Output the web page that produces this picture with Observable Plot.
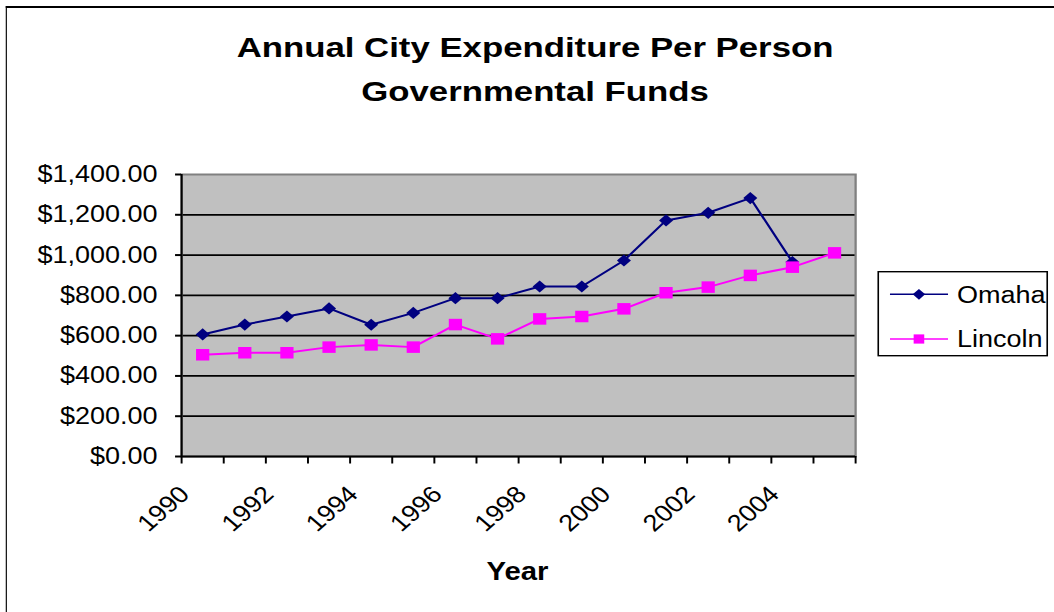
<!DOCTYPE html>
<html>
<head>
<meta charset="utf-8">
<script src="https://cdn.jsdelivr.net/npm/d3@7"></script>
<script src="https://cdn.jsdelivr.net/npm/@observablehq/plot@0.6"></script>
<style>
  html, body { margin: 0; padding: 0; background: #fff; overflow: hidden; width: 1054px; height: 612px; }
  #wrap { position: relative; width: 917px; height: 612px; transform: scaleX(1.1494); transform-origin: 0 0;
          font-family: "Liberation Sans", Arial, sans-serif; color: #000; }
  #frame { position: absolute; left: 5.2px; top: 6px; width: 2000px; height: 2000px;
           border-left: 1.8px solid #000; border-top: 2px solid #000; }
  #chart { position: absolute; left: 0; top: 0; }
  #title { position: absolute; left: 0; top: 26px; width: 931px; text-align: center; font-weight: bold;
           font-size: 28px; line-height: 44px; white-space: nowrap; transform: scaleX(1.08); transform-origin: 465.5px 0; }
  #xlabel { position: absolute; left: 0; top: 555.7px; width: 900.4px; text-align: center; font-weight: bold;
            font-size: 25.5px; line-height: 31px; }
  #legend { position: absolute; left: 760px; top: 265px; overflow: visible; }
</style>
</head>
<body>
<div id="wrap">
  <div id="frame"></div>
  <div id="chart"></div>
  <div id="title">Annual City Expenditure Per Person<br>Governmental Funds</div>
  <div id="xlabel">Year</div>
  <svg id="legend" width="157" height="100"></svg>
</div>
<script>
// ---- Data ----
const years = [1990, 1991, 1992, 1993, 1994, 1995, 1996, 1997, 1998, 1999, 2000, 2001, 2002, 2003, 2004, 2005];
const omahaValues = [606, 655, 695, 735, 654, 713, 786, 786, 844, 844, 973, 1172, 1210, 1283, 965];
const lincolnValues = [505, 515, 515, 543, 554, 543, 655, 584, 683, 695, 733, 813, 841, 899, 940, 1011];
const seriesNames = ["Omaha", "Lincoln"];
const seriesColors = ["#000080", "#FF00FF"];
const seriesSymbols = ["diamond2", "square"];
const yTicks = [0, 200, 400, 600, 800, 1000, 1200, 1400];
const xLabelYears = [1990, 1992, 1994, 1996, 1998, 2000, 2002, 2004];

const omaha = omahaValues.map((v, i) => ({year: years[i], value: v}));
const lincoln = lincolnValues.map((v, i) => ({year: years[i], value: v}));
const boundaries = [years[0] - 0.5, ...years.map(y => y + 0.5)];

const chart = Plot.plot({
  width: 917,
  height: 612,
  marginTop: 174,
  marginBottom: 156,
  marginLeft: 157.5,
  marginRight: 173.1,
  style: {fontFamily: '"Liberation Sans", Arial, sans-serif', fontSize: "23.5px", color: "#000", background: "transparent", maxWidth: "none", overflow: "visible"},
  x: {domain: [boundaries[0], boundaries[boundaries.length - 1]]},
  y: {domain: [0, 1400]},
  marks: [
    Plot.frame({fill: "#c0c0c0", stroke: "none"}),
    Plot.gridY({ticks: yTicks.filter(t => t > 0 && t < 1400), stroke: "#000", strokeOpacity: 1, strokeWidth: 1.8}),
    Plot.frame({stroke: "#808080", strokeWidth: 2}),
    Plot.axisY({ticks: yTicks, tickFormat: d3.format("$,.2f"), tickSize: 5.2, tickPadding: 15.8, fontSize: 23.5, stroke: "#000", strokeWidth: 2, label: null}),
    Plot.axisX({ticks: boundaries, tickSize: 7.5, fill: "none", stroke: "#000", strokeWidth: 1.7, label: null}),
    Plot.axisX({ticks: xLabelYears, tickSize: 0, tickRotate: -45, tickPadding: 34, dx: -15.5, fontSize: 23.5, tickFormat: d => String(d), label: null}),
    Plot.ruleX([boundaries[0]], {stroke: "#000", strokeWidth: 1.8}),
    Plot.ruleY([0], {stroke: "#000", strokeWidth: 2}),
    Plot.line(omaha, {x: "year", y: "value", stroke: seriesColors[0], strokeWidth: 2}),
    Plot.dot(omaha, {x: "year", y: "value", symbol: seriesSymbols[0], r: 5.5, fill: seriesColors[0], stroke: "none"}),
    Plot.line(lincoln, {x: "year", y: "value", stroke: seriesColors[1], strokeWidth: 2}),
    Plot.dot(lincoln, {x: "year", y: "value", symbol: seriesSymbols[1], r: 6.5, fill: seriesColors[1], stroke: "none"})
  ]
});
document.getElementById("chart").appendChild(chart);

// ---- Legend ----
const lg = d3.select("#legend");
lg.append("rect").attr("x", 4.1).attr("y", 6.7).attr("width", 147).attr("height", 84)
  .attr("fill", "#fff").attr("stroke", "#000").attr("stroke-width", 1.4);
const rowY = [29.3, 74];
const symGen = {diamond2: d3.symbol(d3.symbolDiamond2, 75), square: d3.symbol(d3.symbolSquare, 85)};
seriesNames.forEach((name, i) => {
  const g = lg.append("g").attr("transform", `translate(0,${rowY[i]})`);
  g.append("line").attr("x1", 14.3).attr("x2", 64.8).attr("y1", 0).attr("y2", 0)
    .attr("stroke", seriesColors[i]).attr("stroke-width", 1.6);
  g.append("path").attr("d", symGen[seriesSymbols[i]]()).attr("transform", "translate(39.5,0)")
    .attr("fill", seriesColors[i]);
  g.append("text").attr("x", 72.6).attr("y", 0).attr("dy", "0.35em")
    .attr("font-family", '"Liberation Sans", Arial, sans-serif').attr("font-size", 23.5)
    .attr("fill", "#000").text(name);
});
</script>
</body>
</html>
